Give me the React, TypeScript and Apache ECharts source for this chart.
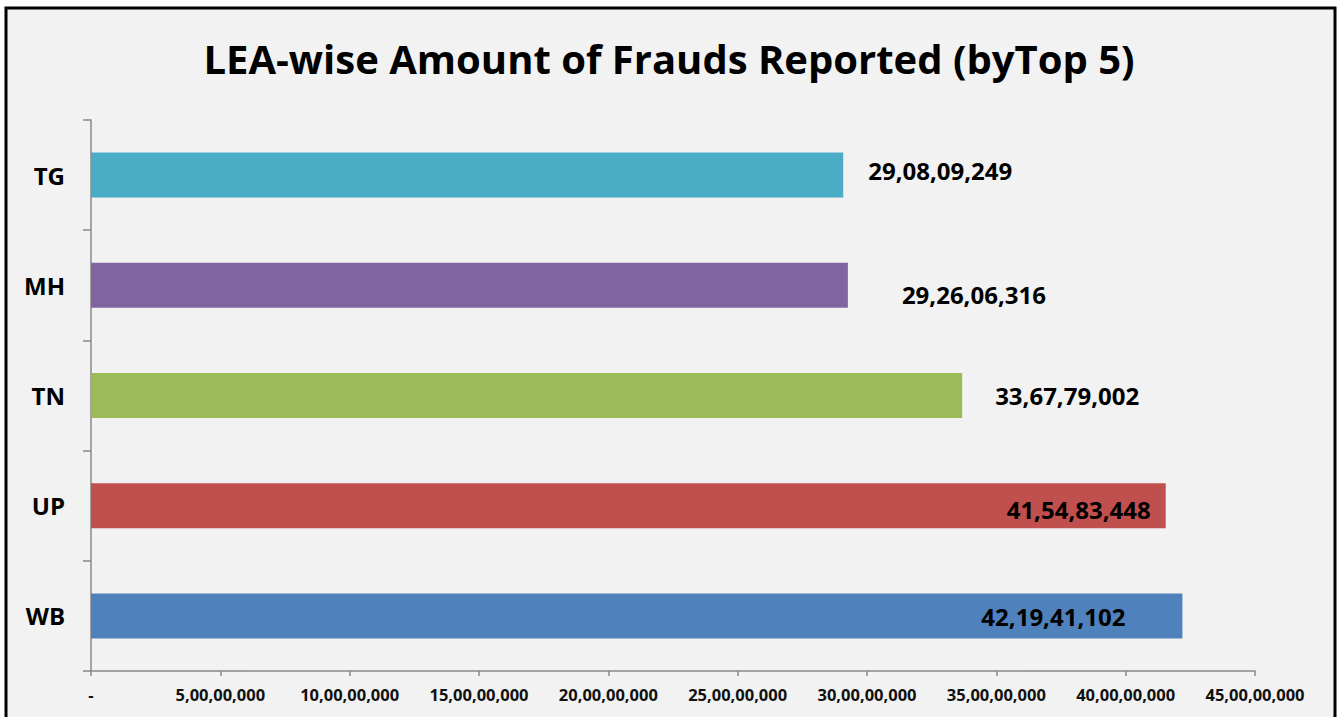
import React, { useEffect, useRef } from "react";
import * as echarts from "echarts";

const categories = ["WB", "UP", "TN", "MH", "TG"];
const amounts = [421941102, 415483448, 336779002, 292606316, 290809249];
const barColors = ["#4F81BD", "#C0504D", "#9BBB59", "#8064A2", "#4BACC6"];
const titleText = "LEA-wise Amount of Frauds Reported (byTop 5)";
const axisMax = 450000000;
const axisInterval = 50000000;

// label placement like the original (Excel manual positions)
const labelPos: Array<{ position: string; offset: [number, number] }> = [
  { position: "insideRight", offset: [-52, 1] },
  { position: "insideRight", offset: [-10, 4] },
  { position: "right", offset: [28, 0] },
  { position: "right", offset: [49, 9] },
  { position: "right", offset: [20, -5] },
];

function indian(n: number): string {
  if (n === 0) return "-";
  const s = Math.round(n).toString();
  if (s.length <= 3) return s;
  const last3 = s.slice(-3);
  let rest = s.slice(0, -3);
  const parts: string[] = [];
  while (rest.length > 2) {
    parts.unshift(rest.slice(-2));
    rest = rest.slice(0, -2);
  }
  if (rest.length) parts.unshift(rest);
  return parts.join(",") + "," + last3;
}

export default function App() {
  const ref = useRef<HTMLDivElement>(null);
  useEffect(() => {
    if (!ref.current) return;
    const chart = echarts.init(ref.current, undefined, { renderer: "svg" });
    const font = "'Open Sans', 'Noto Sans', sans-serif";
    chart.setOption({
      animation: false,
      backgroundColor: "#ffffff",
      graphic: [
        {
          type: "rect",
          z: -10,
          shape: { x: 6, y: 8, width: 1329, height: 720 },
          style: { fill: "#F2F2F2", stroke: "#000", lineWidth: 3 },
        },
      ],
      title: {
        text: titleText,
        left: "center",
        top: 33,
        textStyle: {
          fontFamily: font,
          fontWeight: "bold",
          fontSize: 40,
          color: "#000",
        },
      },
      grid: { left: 91, right: 83, top: 120, bottom: 46, containLabel: false },
      xAxis: {
        type: "value",
        min: 0,
        max: axisMax,
        interval: axisInterval,
        splitLine: { show: false },
        axisLine: { show: true, lineStyle: { color: "#888", width: 1.5 } },
        axisTick: { show: true, length: 5, lineStyle: { color: "#888", width: 1.5 } },
        axisLabel: {
          margin: 15,
          fontFamily: font,
          fontWeight: "bold",
          fontSize: 16.5,
          color: "#111",
          formatter: (v: number) => indian(v),
        },
      },
      yAxis: {
        type: "category",
        data: categories,
        boundaryGap: true,
        axisLine: { show: true, lineStyle: { color: "#888", width: 1.5 } },
        axisTick: { show: true, length: 8, alignWithLabel: false, lineStyle: { color: "#888", width: 1.5 } },
        axisLabel: {
          margin: 26,
          fontFamily: font,
          fontWeight: "bold",
          fontSize: 24,
          color: "#000",
        },
      },
      series: [
        {
          type: "bar",
          barWidth: 45,
          data: amounts.map((v, i) => ({
            value: v,
            itemStyle: { color: barColors[i] },
            label: {
              show: true,
              position: labelPos[i].position,
              offset: labelPos[i].offset,
              formatter: (p: any) => indian(p.value),
              fontFamily: font,
              fontWeight: "bold",
              fontSize: 24,
              color: "#000",
            },
          })),
        },
      ],
    });
    return () => chart.dispose();
  }, []);
  return (
    <div
      ref={ref}
      style={{ position: "fixed", left: 0, top: 0, width: 1338, height: 717 }}
    />
  );
}
